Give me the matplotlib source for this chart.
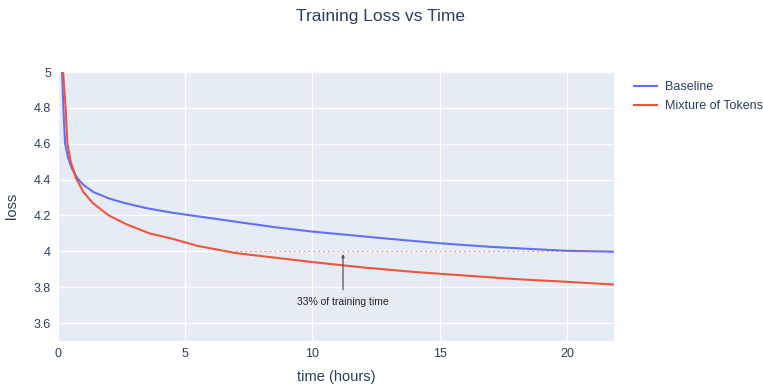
import matplotlib.pyplot as plt

# data
baseline_t = [0.1, 0.16, 0.21, 0.28, 0.4, 0.55, 0.75, 1.0, 1.4, 2.0, 2.6, 3.5, 4.5, 5.5,
              7, 8.5, 10, 11.5, 13, 15, 17, 19, 20, 21.85]
baseline_loss = [5.6, 5.0, 4.8, 4.6, 4.52, 4.46, 4.41, 4.37, 4.33, 4.295, 4.27, 4.24, 4.215, 4.195,
                 4.165, 4.135, 4.11, 4.09, 4.07, 4.045, 4.025, 4.01, 4.003, 3.998]

mot_t = [0.1, 0.2, 0.3, 0.37, 0.5, 0.7, 1.0, 1.4, 2.0, 2.7, 3.6, 4.5, 5.5,
         7, 8.5, 10, 12, 14, 16, 18, 20, 21.85]
mot_loss = [5.8, 5.0, 4.8, 4.6, 4.5, 4.41, 4.33, 4.265, 4.2, 4.15, 4.1, 4.07, 4.03,
            3.99, 3.965, 3.94, 3.91, 3.885, 3.865, 3.845, 3.83, 3.815]

x_ticks = [0, 5, 10, 15, 20]
y_ticks = [3.6, 3.8, 4.0, 4.2, 4.4, 4.6, 4.8, 5.0]
y_ticklabels = ["3.6", "3.8", "4", "4.2", "4.4", "4.6", "4.8", "5"]

ref_loss = 4.0
ref_start = 6.95
arrow_x = 11.2

plt.rcParams['font.family'] = ['Liberation Sans', 'DejaVu Sans']
text_col = '#2a3f5f'

fig = plt.figure(figsize=(7.63, 3.89), dpi=100)
ax = fig.add_axes([58 / 763, 1 - 341 / 389, 556 / 763, 269 / 389])
ax.set_facecolor('#E5ECF6')

ax.plot(baseline_t, baseline_loss, color='#636efa', lw=1.5, label='Baseline')
ax.plot(mot_t, mot_loss, color='#EF553B', lw=1.5, label='Mixture of Tokens')

# dotted reference line at baseline's final loss
ax.plot([ref_start, 21.85], [ref_loss, ref_loss], color='#EF553B', lw=0.7,
        linestyle=(0, (2, 3)), alpha=0.7)

ax.annotate('', xy=(arrow_x, ref_loss), xytext=(arrow_x, 3.77),
            arrowprops=dict(arrowstyle='-|>', color='#555555', lw=0.9, mutation_scale=4))
ax.text(arrow_x, 3.72, '33% of training time', ha='center', va='center',
        fontsize=7.5, color='#222222')

ax.set_xlim(0, 21.85)
ax.set_ylim(3.5, 5.0)
ax.set_xticks(x_ticks)
ax.set_yticks(y_ticks)
ax.set_yticklabels(y_ticklabels)
ax.grid(color='white', lw=1)
ax.set_axisbelow(True)
for s in ax.spines.values():
    s.set_visible(False)
ax.tick_params(length=0, labelsize=9, colors=text_col, pad=5)

fig.text(336 / 763, 1 - 377 / 389, 'time (hours)', ha='center', va='center',
         fontsize=10.5, color=text_col)
fig.text(12 / 763, 1 - 206 / 389, 'loss', ha='center', va='center', rotation=90,
         fontsize=10.5, color=text_col)
fig.text(380 / 763, 1 - 17 / 389, 'Training Loss vs Time', ha='center', va='center',
         fontsize=12.5, color=text_col)

leg = fig.legend(loc='upper left', bbox_to_anchor=(631 / 763, 1 - 79 / 389), frameon=False,
                 fontsize=9, handlelength=1.9, handletextpad=0.65, labelspacing=0.55,
                 borderaxespad=0, borderpad=0.2)
for t in leg.get_texts():
    t.set_color(text_col)

fig.savefig('out.png', dpi=100)
